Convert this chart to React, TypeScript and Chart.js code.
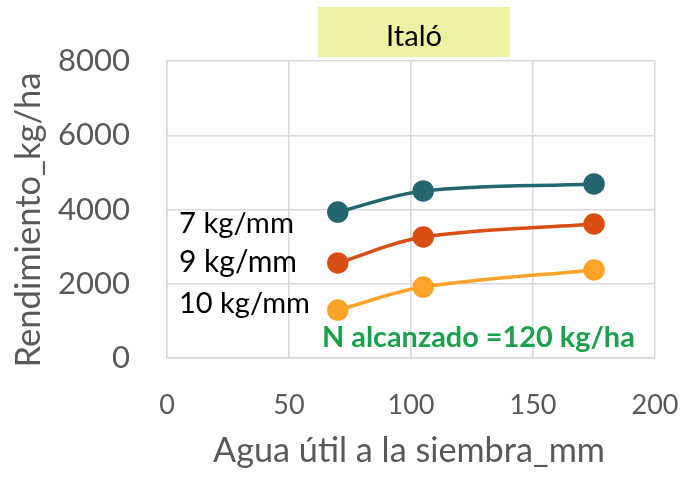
import React, { useEffect, useRef } from 'react';
import { Chart, registerables } from 'chart.js';

Chart.register(...registerables);

// ---- data ----
const X_VALUES = [70, 105, 175];
const SERIES_NAMES = ['7 kg/mm', '9 kg/mm', '10 kg/mm'];
const YIELD_7 = [3930, 4500, 4690];
const YIELD_9 = [2560, 3260, 3610];
const YIELD_10 = [1290, 1910, 2370];
const X_TICKS = [0, 50, 100, 150, 200];
const Y_TICKS = [0, 2000, 4000, 6000, 8000];
const TITLE = 'Italó';
const X_TITLE = 'Agua útil a la siembra_mm';
const Y_TITLE = 'Rendimiento_kg/ha';
const NOTE = 'N alcanzado =120 kg/ha';

// ---- styles ----
const COLORS = ['#22666F', '#D94E14', '#FBA329'];
const FONT = 'Lato, "Open Sans", sans-serif';
const GRID = '#D9D9D9';
const TICK_COLOR = '#595959';

function fitSize(ctx: CanvasRenderingContext2D, text: string, weight: string, target: number) {
  ctx.font = `${weight} 100px ${FONT}`;
  const w = ctx.measureText(text).width;
  return (100 * target) / w;
}

const decorPlugin = {
  id: 'decor',
  afterDraw(chart: any) {
    const ctx: CanvasRenderingContext2D = chart.ctx;
    ctx.save();
    // title box
    ctx.fillStyle = '#EEF1A2';
    ctx.fillRect(318, 7, 192, 50);
    let s = fitSize(ctx, TITLE, 'normal', 56);
    ctx.font = `normal ${s}px ${FONT}`;
    ctx.fillStyle = '#000000';
    ctx.textAlign = 'center';
    ctx.textBaseline = 'alphabetic';
    ctx.fillText(TITLE, 414, 46);

    // series labels
    const labelBaselines = [233, 272, 313];
    const labelWidths = [115, 118, 131];
    ctx.textAlign = 'left';
    SERIES_NAMES.forEach((name, i) => {
      const fs = fitSize(ctx, name, 'normal', labelWidths[i]);
      ctx.font = `normal ${fs}px ${FONT}`;
      ctx.fillStyle = '#000000';
      ctx.fillText(name, 179, labelBaselines[i]);
    });

    // note
    s = fitSize(ctx, NOTE, 'bold', 313);
    ctx.font = `bold ${s}px ${FONT}`;
    ctx.fillStyle = '#1BA04E';
    ctx.fillText(NOTE, 322, 347);

    // x title
    s = fitSize(ctx, X_TITLE, 'normal', 392);
    ctx.font = `normal ${s}px ${FONT}`;
    ctx.fillStyle = TICK_COLOR;
    ctx.textAlign = 'center';
    ctx.fillText(X_TITLE, 409, 462);

    // y title
    s = fitSize(ctx, Y_TITLE, 'normal', 295);
    ctx.font = `normal ${s}px ${FONT}`;
    ctx.translate(40, 220);
    ctx.rotate(-Math.PI / 2);
    ctx.fillText(Y_TITLE, 0, 0);
    ctx.restore();
  },
};

export default function App() {
  const ref = useRef<HTMLCanvasElement | null>(null);
  useEffect(() => {
    if (!ref.current) return;
    const mk = (vals: number[], i: number) => ({
      label: SERIES_NAMES[i],
      data: X_VALUES.map((x, j) => ({ x, y: vals[j] })),
      borderColor: COLORS[i],
      backgroundColor: COLORS[i],
      pointBackgroundColor: COLORS[i],
      pointBorderColor: COLORS[i],
      pointRadius: 9,
      borderWidth: 3.5,
      tension: 0.35,
      fill: false,
    });
    const chart = new Chart(ref.current, {
      type: 'line',
      data: { datasets: [mk(YIELD_7, 0), mk(YIELD_9, 1), mk(YIELD_10, 2)] },
      options: {
        animation: false,
        responsive: false,
        devicePixelRatio: 1,
        layout: { padding: { top: 61, right: 29, left: 0, bottom: 0 } },
        plugins: { legend: { display: false }, tooltip: { enabled: false }, title: { display: false } },
        scales: {
          x: {
            type: 'linear',
            min: 0,
            max: 200,
            afterBuildTicks: (sc: any) => { sc.ticks = X_TICKS.map((v) => ({ value: v })); },
            afterFit: (sc: any) => { sc.height = 120; sc.paddingLeft = 0; sc.paddingRight = 0; },
            grid: { color: GRID, drawTicks: false, lineWidth: 1.5 },
            border: { color: GRID, width: 1.5 },
            ticks: { color: TICK_COLOR, padding: 31, font: { family: FONT, size: 27 }, callback: (v: any) => String(v) },
          },
          y: {
            type: 'linear',
            min: 0,
            max: 8000,
            afterBuildTicks: (sc: any) => { sc.ticks = Y_TICKS.map((v) => ({ value: v })); },
            afterFit: (sc: any) => { sc.width = 167; sc.paddingTop = 0; sc.paddingBottom = 0; },
            grid: { color: GRID, drawTicks: false, lineWidth: 1.5 },
            border: { color: GRID, width: 1.5 },
            ticks: { color: TICK_COLOR, padding: 37, font: { family: FONT, size: 31 }, callback: (v: any) => String(v) },
          },
        },
      },
      plugins: [decorPlugin],
    });
    return () => chart.destroy();
  }, []);
  return (
    <div style={{ position: 'fixed', left: 0, top: 0, width: 684, height: 478, background: '#fff' }}>
      <canvas ref={ref} width={684} height={478} style={{ width: 684, height: 478, display: 'block' }} />
    </div>
  );
}
